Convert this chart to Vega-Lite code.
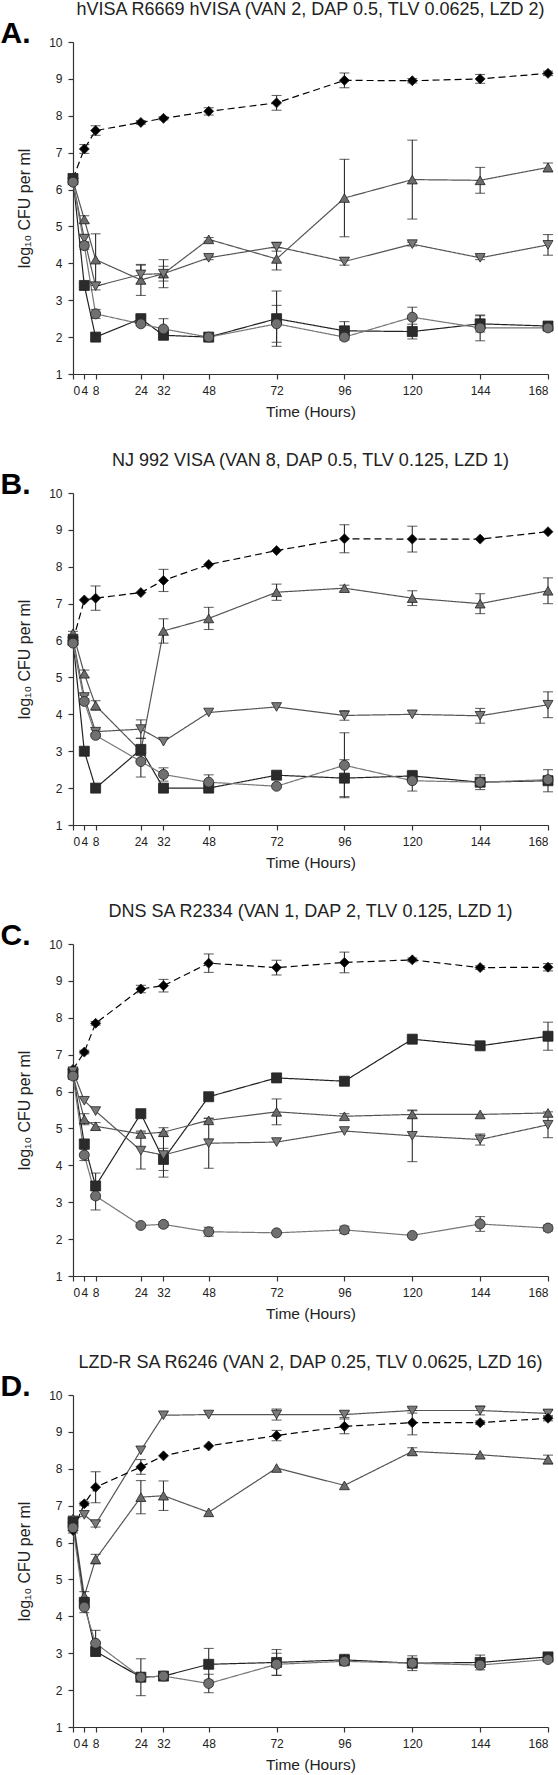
{
 "$schema": "https://vega.github.io/schema/vega-lite/v6.json",
 "padding": {"left": 0, "top": 1, "right": 0, "bottom": 0},
 "background": "white",
 "datasets": {
  "cfu": [
   {"p":"A","s":"Control","h":0,"v":6.3,"e":0.05},{"p":"A","s":"Control","h":4,"v":7.1,"e":0.12},{"p":"A","s":"Control","h":8,"v":7.6,"e":0.13},{"p":"A","s":"Control","h":24,"v":7.82,"e":0.05},{"p":"A","s":"Control","h":32,"v":7.93,"e":0.04},{"p":"A","s":"Control","h":48,"v":8.12,"e":0.1},{"p":"A","s":"Control","h":72,"v":8.35,"e":0.2},{"p":"A","s":"Control","h":96,"v":8.96,"e":0.2},{"p":"A","s":"Control","h":120,"v":8.95,"e":0.06},{"p":"A","s":"Control","h":144,"v":9.0,"e":0.12},{"p":"A","s":"Control","h":168,"v":9.15,"e":0.06},
   {"p":"A","s":"VAN","h":0,"v":6.25,"e":0.08},{"p":"A","s":"VAN","h":4,"v":5.19,"e":0.1},{"p":"A","s":"VAN","h":8,"v":4.1,"e":0.7},{"p":"A","s":"VAN","h":24,"v":3.55,"e":0.42},{"p":"A","s":"VAN","h":32,"v":3.72,"e":0.38},{"p":"A","s":"VAN","h":48,"v":4.65,"e":0.05},{"p":"A","s":"VAN","h":72,"v":4.12,"e":0.3},{"p":"A","s":"VAN","h":96,"v":5.77,"e":1.05},{"p":"A","s":"VAN","h":120,"v":6.27,"e":1.07},{"p":"A","s":"VAN","h":144,"v":6.25,"e":0.35},{"p":"A","s":"VAN","h":168,"v":6.6,"e":0.12},
   {"p":"A","s":"LZD","h":0,"v":6.2,"e":0.05},{"p":"A","s":"LZD","h":4,"v":4.67,"e":0.1},{"p":"A","s":"LZD","h":8,"v":3.38,"e":0.1},{"p":"A","s":"LZD","h":24,"v":3.7,"e":0.25},{"p":"A","s":"LZD","h":32,"v":3.72,"e":0.2},{"p":"A","s":"LZD","h":48,"v":4.15,"e":0.05},{"p":"A","s":"LZD","h":72,"v":4.45,"e":0.12},{"p":"A","s":"LZD","h":96,"v":4.05,"e":0.1},{"p":"A","s":"LZD","h":120,"v":4.52,"e":0.05},{"p":"A","s":"LZD","h":144,"v":4.15,"e":0.05},{"p":"A","s":"LZD","h":168,"v":4.5,"e":0.28},
   {"p":"A","s":"DAP","h":0,"v":6.3,"e":0.05},{"p":"A","s":"DAP","h":4,"v":3.4,"e":0.05},{"p":"A","s":"DAP","h":8,"v":2.0,"e":0},{"p":"A","s":"DAP","h":24,"v":2.5,"e":0.05},{"p":"A","s":"DAP","h":32,"v":2.05,"e":0.05},{"p":"A","s":"DAP","h":48,"v":2.0,"e":0},{"p":"A","s":"DAP","h":72,"v":2.5,"e":0.75},{"p":"A","s":"DAP","h":96,"v":2.17,"e":0.25},{"p":"A","s":"DAP","h":120,"v":2.15,"e":0.2},{"p":"A","s":"DAP","h":144,"v":2.36,"e":0.22},{"p":"A","s":"DAP","h":168,"v":2.3,"e":0.08},
   {"p":"A","s":"TLV","h":0,"v":6.2,"e":0.05},{"p":"A","s":"TLV","h":4,"v":4.48,"e":0.1},{"p":"A","s":"TLV","h":8,"v":2.63,"e":0.12},{"p":"A","s":"TLV","h":24,"v":2.36,"e":0.05},{"p":"A","s":"TLV","h":32,"v":2.22,"e":0.28},{"p":"A","s":"TLV","h":48,"v":2.0,"e":0},{"p":"A","s":"TLV","h":72,"v":2.36,"e":0.5},{"p":"A","s":"TLV","h":96,"v":2.0,"e":0},{"p":"A","s":"TLV","h":120,"v":2.54,"e":0.27},{"p":"A","s":"TLV","h":144,"v":2.25,"e":0.35},{"p":"A","s":"TLV","h":168,"v":2.25,"e":0.05},

   {"p":"B","s":"Control","h":0,"v":6.0,"e":0.05},{"p":"B","s":"Control","h":4,"v":7.1,"e":0},{"p":"B","s":"Control","h":8,"v":7.15,"e":0.33},{"p":"B","s":"Control","h":24,"v":7.3,"e":0},{"p":"B","s":"Control","h":32,"v":7.63,"e":0.3},{"p":"B","s":"Control","h":48,"v":8.06,"e":0},{"p":"B","s":"Control","h":72,"v":8.44,"e":0},{"p":"B","s":"Control","h":96,"v":8.76,"e":0.38},{"p":"B","s":"Control","h":120,"v":8.75,"e":0.35},{"p":"B","s":"Control","h":144,"v":8.75,"e":0},{"p":"B","s":"Control","h":168,"v":8.95,"e":0},
   {"p":"B","s":"VAN","h":0,"v":6.2,"e":0.05},{"p":"B","s":"VAN","h":4,"v":5.1,"e":0.1},{"p":"B","s":"VAN","h":8,"v":4.24,"e":0.13},{"p":"B","s":"VAN","h":24,"v":3.0,"e":0.05},{"p":"B","s":"VAN","h":32,"v":6.26,"e":0.33},{"p":"B","s":"VAN","h":48,"v":6.6,"e":0.3},{"p":"B","s":"VAN","h":72,"v":7.31,"e":0.22},{"p":"B","s":"VAN","h":96,"v":7.42,"e":0.08},{"p":"B","s":"VAN","h":120,"v":7.15,"e":0.2},{"p":"B","s":"VAN","h":144,"v":7.0,"e":0.27},{"p":"B","s":"VAN","h":168,"v":7.35,"e":0.35},
   {"p":"B","s":"LZD","h":0,"v":6.05,"e":0},{"p":"B","s":"LZD","h":4,"v":4.47,"e":0.05},{"p":"B","s":"LZD","h":8,"v":3.53,"e":0.05},{"p":"B","s":"LZD","h":24,"v":3.6,"e":0.25},{"p":"B","s":"LZD","h":32,"v":3.26,"e":0},{"p":"B","s":"LZD","h":48,"v":4.05,"e":0},{"p":"B","s":"LZD","h":72,"v":4.2,"e":0},{"p":"B","s":"LZD","h":96,"v":3.97,"e":0.13},{"p":"B","s":"LZD","h":120,"v":4.0,"e":0},{"p":"B","s":"LZD","h":144,"v":3.96,"e":0.2},{"p":"B","s":"LZD","h":168,"v":4.26,"e":0.35},
   {"p":"B","s":"DAP","h":0,"v":6.0,"e":0},{"p":"B","s":"DAP","h":4,"v":3.0,"e":0},{"p":"B","s":"DAP","h":8,"v":2.0,"e":0},{"p":"B","s":"DAP","h":24,"v":3.05,"e":0.3},{"p":"B","s":"DAP","h":32,"v":2.0,"e":0},{"p":"B","s":"DAP","h":48,"v":2.0,"e":0},{"p":"B","s":"DAP","h":72,"v":2.35,"e":0},{"p":"B","s":"DAP","h":96,"v":2.27,"e":0.5},{"p":"B","s":"DAP","h":120,"v":2.33,"e":0.12},{"p":"B","s":"DAP","h":144,"v":2.16,"e":0.2},{"p":"B","s":"DAP","h":168,"v":2.2,"e":0.3},
   {"p":"B","s":"TLV","h":0,"v":5.93,"e":0},{"p":"B","s":"TLV","h":4,"v":4.35,"e":0},{"p":"B","s":"TLV","h":8,"v":3.43,"e":0},{"p":"B","s":"TLV","h":24,"v":2.72,"e":0.42},{"p":"B","s":"TLV","h":32,"v":2.37,"e":0.18},{"p":"B","s":"TLV","h":48,"v":2.16,"e":0.2},{"p":"B","s":"TLV","h":72,"v":2.05,"e":0},{"p":"B","s":"TLV","h":96,"v":2.62,"e":0.88},{"p":"B","s":"TLV","h":120,"v":2.2,"e":0.28},{"p":"B","s":"TLV","h":144,"v":2.16,"e":0},{"p":"B","s":"TLV","h":168,"v":2.23,"e":0},

   {"p":"C","s":"Control","h":0,"v":6.6,"e":0.05},{"p":"C","s":"Control","h":4,"v":7.07,"e":0.05},{"p":"C","s":"Control","h":8,"v":7.85,"e":0.05},{"p":"C","s":"Control","h":24,"v":8.78,"e":0.1},{"p":"C","s":"Control","h":32,"v":8.87,"e":0.17},{"p":"C","s":"Control","h":48,"v":9.48,"e":0.25},{"p":"C","s":"Control","h":72,"v":9.36,"e":0.2},{"p":"C","s":"Control","h":96,"v":9.5,"e":0.28},{"p":"C","s":"Control","h":120,"v":9.57,"e":0.05},{"p":"C","s":"Control","h":144,"v":9.36,"e":0.05},{"p":"C","s":"Control","h":168,"v":9.37,"e":0.1},
   {"p":"C","s":"DAP","h":0,"v":6.5,"e":0},{"p":"C","s":"DAP","h":4,"v":4.58,"e":0.1},{"p":"C","s":"DAP","h":8,"v":3.44,"e":0.35},{"p":"C","s":"DAP","h":24,"v":5.4,"e":0},{"p":"C","s":"DAP","h":32,"v":4.16,"e":0.3},{"p":"C","s":"DAP","h":48,"v":5.86,"e":0},{"p":"C","s":"DAP","h":72,"v":6.37,"e":0.12},{"p":"C","s":"DAP","h":96,"v":6.28,"e":0},{"p":"C","s":"DAP","h":120,"v":7.42,"e":0},{"p":"C","s":"DAP","h":144,"v":7.24,"e":0},{"p":"C","s":"DAP","h":168,"v":7.5,"e":0.38},
   {"p":"C","s":"VAN","h":0,"v":6.45,"e":0},{"p":"C","s":"VAN","h":4,"v":5.25,"e":0.15},{"p":"C","s":"VAN","h":8,"v":5.06,"e":0.1},{"p":"C","s":"VAN","h":24,"v":4.85,"e":0.08},{"p":"C","s":"VAN","h":32,"v":4.9,"e":0.12},{"p":"C","s":"VAN","h":48,"v":5.22,"e":0.05},{"p":"C","s":"VAN","h":72,"v":5.45,"e":0.35},{"p":"C","s":"VAN","h":96,"v":5.33,"e":0.07},{"p":"C","s":"VAN","h":120,"v":5.38,"e":0.1},{"p":"C","s":"VAN","h":144,"v":5.38,"e":0},{"p":"C","s":"VAN","h":168,"v":5.42,"e":0},
   {"p":"C","s":"LZD","h":0,"v":6.55,"e":0},{"p":"C","s":"LZD","h":4,"v":5.75,"e":0},{"p":"C","s":"LZD","h":8,"v":5.47,"e":0},{"p":"C","s":"LZD","h":24,"v":4.4,"e":0.5},{"p":"C","s":"LZD","h":32,"v":4.28,"e":0.6},{"p":"C","s":"LZD","h":48,"v":4.6,"e":0.68},{"p":"C","s":"LZD","h":72,"v":4.63,"e":0},{"p":"C","s":"LZD","h":96,"v":4.93,"e":0},{"p":"C","s":"LZD","h":120,"v":4.8,"e":0.7},{"p":"C","s":"LZD","h":144,"v":4.7,"e":0.15},{"p":"C","s":"LZD","h":168,"v":5.1,"e":0.35},
   {"p":"C","s":"TLV","h":0,"v":6.42,"e":0},{"p":"C","s":"TLV","h":4,"v":4.28,"e":0.15},{"p":"C","s":"TLV","h":8,"v":3.17,"e":0.38},{"p":"C","s":"TLV","h":24,"v":2.37,"e":0},{"p":"C","s":"TLV","h":32,"v":2.4,"e":0.07},{"p":"C","s":"TLV","h":48,"v":2.2,"e":0.12},{"p":"C","s":"TLV","h":72,"v":2.17,"e":0},{"p":"C","s":"TLV","h":96,"v":2.25,"e":0.1},{"p":"C","s":"TLV","h":120,"v":2.1,"e":0},{"p":"C","s":"TLV","h":144,"v":2.41,"e":0.2},{"p":"C","s":"TLV","h":168,"v":2.3,"e":0.08},

   {"p":"D","s":"LZD","h":0,"v":6.6,"e":0},{"p":"D","s":"LZD","h":4,"v":6.75,"e":0},{"p":"D","s":"LZD","h":8,"v":6.5,"e":0.08},{"p":"D","s":"LZD","h":24,"v":8.5,"e":0},{"p":"D","s":"LZD","h":32,"v":9.45,"e":0},{"p":"D","s":"LZD","h":48,"v":9.47,"e":0},{"p":"D","s":"LZD","h":72,"v":9.47,"e":0.15},{"p":"D","s":"LZD","h":96,"v":9.47,"e":0.08},{"p":"D","s":"LZD","h":120,"v":9.58,"e":0.07},{"p":"D","s":"LZD","h":144,"v":9.58,"e":0.12},{"p":"D","s":"LZD","h":168,"v":9.5,"e":0.08},
   {"p":"D","s":"Control","h":0,"v":6.33,"e":0.07},{"p":"D","s":"Control","h":4,"v":7.05,"e":0.05},{"p":"D","s":"Control","h":8,"v":7.5,"e":0.42},{"p":"D","s":"Control","h":24,"v":8.05,"e":0.2},{"p":"D","s":"Control","h":32,"v":8.35,"e":0},{"p":"D","s":"Control","h":48,"v":8.62,"e":0},{"p":"D","s":"Control","h":72,"v":8.9,"e":0.14},{"p":"D","s":"Control","h":96,"v":9.15,"e":0.2},{"p":"D","s":"Control","h":120,"v":9.25,"e":0.33},{"p":"D","s":"Control","h":144,"v":9.25,"e":0.05},{"p":"D","s":"Control","h":168,"v":9.37,"e":0.07},
   {"p":"D","s":"VAN","h":0,"v":6.65,"e":0},{"p":"D","s":"VAN","h":4,"v":4.55,"e":0.12},{"p":"D","s":"VAN","h":8,"v":5.55,"e":0.13},{"p":"D","s":"VAN","h":24,"v":7.23,"e":0.45},{"p":"D","s":"VAN","h":32,"v":7.27,"e":0.4},{"p":"D","s":"VAN","h":48,"v":6.82,"e":0},{"p":"D","s":"VAN","h":72,"v":8.02,"e":0},{"p":"D","s":"VAN","h":96,"v":7.55,"e":0},{"p":"D","s":"VAN","h":120,"v":8.47,"e":0.1},{"p":"D","s":"VAN","h":144,"v":8.38,"e":0},{"p":"D","s":"VAN","h":168,"v":8.25,"e":0.12},
   {"p":"D","s":"DAP","h":0,"v":6.55,"e":0},{"p":"D","s":"DAP","h":4,"v":4.38,"e":0},{"p":"D","s":"DAP","h":8,"v":3.05,"e":0.12},{"p":"D","s":"DAP","h":24,"v":2.35,"e":0.5},{"p":"D","s":"DAP","h":32,"v":2.38,"e":0},{"p":"D","s":"DAP","h":48,"v":2.7,"e":0.43},{"p":"D","s":"DAP","h":72,"v":2.75,"e":0.35},{"p":"D","s":"DAP","h":96,"v":2.82,"e":0.15},{"p":"D","s":"DAP","h":120,"v":2.73,"e":0.2},{"p":"D","s":"DAP","h":144,"v":2.75,"e":0.2},{"p":"D","s":"DAP","h":168,"v":2.9,"e":0.1},
   {"p":"D","s":"TLV","h":0,"v":6.4,"e":0},{"p":"D","s":"TLV","h":4,"v":4.25,"e":0.15},{"p":"D","s":"TLV","h":8,"v":3.27,"e":0.35},{"p":"D","s":"TLV","h":24,"v":2.35,"e":0},{"p":"D","s":"TLV","h":32,"v":2.38,"e":0},{"p":"D","s":"TLV","h":48,"v":2.18,"e":0.25},{"p":"D","s":"TLV","h":72,"v":2.7,"e":0.3},{"p":"D","s":"TLV","h":96,"v":2.78,"e":0.12},{"p":"D","s":"TLV","h":120,"v":2.73,"e":0},{"p":"D","s":"TLV","h":144,"v":2.68,"e":0.05},{"p":"D","s":"TLV","h":168,"v":2.83,"e":0.05}
  ]
 },
 "config": {
  "view": {"stroke": null},
  "font": "Liberation Sans",
  "concat": {"spacing": 32},
  "axis": {"grid": false, "domainColor": "#333", "tickColor": "#333", "labelColor": "#222", "titleColor": "#222", "labelFont": "Liberation Sans", "titleFont": "Liberation Sans", "labelFontSize": 12, "titleFontSize": 15.5, "titleFontWeight": "normal", "tickSize": 5, "labelPadding": 6, "domainWidth": 1.2, "tickWidth": 1.2},
  "title": {"font": "Liberation Sans", "fontSize": 18, "fontWeight": "normal", "color": "#222", "anchor": "middle", "frame": "group", "offset": -1}
 },
 "vconcat": [
  {
   "title": "hVISA R6669 hVISA (VAN 2, DAP 0.5, TLV 0.0625, LZD 2)",
   "width": 475, "height": 332,
   "data": {"name": "cfu"},
   "transform": [{"filter": "datum.p == 'A'"}],
   "resolve": {"axis": {"x": "independent", "y": "independent"}},
   "layer": [
    {"mark": {"type": "line", "strokeWidth": 1.2},
     "encoding": {
      "x": {"field": "h", "type": "quantitative", "scale": {"domain": [0, 168], "nice": false}, "axis": {"values": [0,4,8,24,32,48,72,96,120,144,168], "title": "Time (Hours)", "titlePadding": 8}},
      "y": {"field": "v", "type": "quantitative", "scale": {"domain": [1, 10], "nice": false, "zero": false}, "axis": {"values": [1,2,3,4,5,6,7,8,9,10], "title": "log₁₀ CFU per ml", "titleFontSize": 16, "titlePadding": 16}},
      "color": {"field": "s", "type": "nominal", "scale": {"domain": ["Control","VAN","LZD","DAP","TLV"], "range": ["#000000","#555555","#555555","#222222","#777777"]}, "legend": null},
      "strokeDash": {"field": "s", "type": "nominal", "scale": {"domain": ["Control","VAN","LZD","DAP","TLV"], "range": [[7,4],[1,0],[1,0],[1,0],[1,0]]}, "legend": null}
     }},
    {"transform": [{"filter": "datum.e > 0"}],
     "mark": {"type": "errorbar", "color": "#2a2a2a", "ticks": true, "size": 10, "thickness": 1.1},
     "encoding": {
      "x": {"field": "h", "type": "quantitative", "axis": null},
      "y": {"field": "v", "type": "quantitative", "axis": null},
      "yError": {"field": "e"},
      "detail": {"field": "s", "type": "nominal"}
     }},
    {"mark": {"type": "point", "filled": true, "size": 100, "stroke": "#222222", "strokeWidth": 0.8, "opacity": 1},
     "encoding": {
      "x": {"field": "h", "type": "quantitative", "axis": {"orient": "top", "labels": false, "ticks": false, "domain": false, "title": "A.", "titleFontSize": 30, "titleFontWeight": "bold", "titleColor": "#000", "titleAlign": "left", "titleX": -73, "titleY": 0, "titleBaseline": "alphabetic"}},
      "y": {"field": "v", "type": "quantitative", "axis": null},
      "shape": {"field": "s", "type": "nominal", "scale": {"domain": ["Control","VAN","LZD","DAP","TLV"], "range": ["diamond","triangle-up","triangle-down","square","circle"]}, "legend": null},
      "fill": {"field": "s", "type": "nominal", "scale": {"domain": ["Control","VAN","LZD","DAP","TLV"], "range": ["#000000","#6b6b6b","#7a7a7a","#2b2b2b","#707070"]}, "legend": null}
     }}
   ]
  },
  {
   "title": "NJ 992 VISA (VAN 8, DAP 0.5, TLV 0.125, LZD 1)",
   "width": 475, "height": 332,
   "data": {"name": "cfu"},
   "transform": [{"filter": "datum.p == 'B'"}],
   "resolve": {"axis": {"x": "independent", "y": "independent"}},
   "layer": [
    {"mark": {"type": "line", "strokeWidth": 1.2},
     "encoding": {
      "x": {"field": "h", "type": "quantitative", "scale": {"domain": [0, 168], "nice": false}, "axis": {"values": [0,4,8,24,32,48,72,96,120,144,168], "title": "Time (Hours)", "titlePadding": 8}},
      "y": {"field": "v", "type": "quantitative", "scale": {"domain": [1, 10], "nice": false, "zero": false}, "axis": {"values": [1,2,3,4,5,6,7,8,9,10], "title": "log₁₀ CFU per ml", "titleFontSize": 16, "titlePadding": 16}},
      "color": {"field": "s", "type": "nominal", "scale": {"domain": ["Control","VAN","LZD","DAP","TLV"], "range": ["#000000","#555555","#555555","#222222","#777777"]}, "legend": null},
      "strokeDash": {"field": "s", "type": "nominal", "scale": {"domain": ["Control","VAN","LZD","DAP","TLV"], "range": [[7,4],[1,0],[1,0],[1,0],[1,0]]}, "legend": null}
     }},
    {"transform": [{"filter": "datum.e > 0"}],
     "mark": {"type": "errorbar", "color": "#2a2a2a", "ticks": true, "size": 10, "thickness": 1.1},
     "encoding": {
      "x": {"field": "h", "type": "quantitative", "axis": null},
      "y": {"field": "v", "type": "quantitative", "axis": null},
      "yError": {"field": "e"},
      "detail": {"field": "s", "type": "nominal"}
     }},
    {"mark": {"type": "point", "filled": true, "size": 100, "stroke": "#222222", "strokeWidth": 0.8, "opacity": 1},
     "encoding": {
      "x": {"field": "h", "type": "quantitative", "axis": {"orient": "top", "labels": false, "ticks": false, "domain": false, "title": "B.", "titleFontSize": 30, "titleFontWeight": "bold", "titleColor": "#000", "titleAlign": "left", "titleX": -73, "titleY": 0, "titleBaseline": "alphabetic"}},
      "y": {"field": "v", "type": "quantitative", "axis": null},
      "shape": {"field": "s", "type": "nominal", "scale": {"domain": ["Control","VAN","LZD","DAP","TLV"], "range": ["diamond","triangle-up","triangle-down","square","circle"]}, "legend": null},
      "fill": {"field": "s", "type": "nominal", "scale": {"domain": ["Control","VAN","LZD","DAP","TLV"], "range": ["#000000","#6b6b6b","#7a7a7a","#2b2b2b","#707070"]}, "legend": null}
     }}
   ]
  },
  {
   "title": "DNS SA R2334 (VAN 1, DAP 2, TLV 0.125, LZD 1)",
   "width": 475, "height": 332,
   "data": {"name": "cfu"},
   "transform": [{"filter": "datum.p == 'C'"}],
   "resolve": {"axis": {"x": "independent", "y": "independent"}},
   "layer": [
    {"mark": {"type": "line", "strokeWidth": 1.2},
     "encoding": {
      "x": {"field": "h", "type": "quantitative", "scale": {"domain": [0, 168], "nice": false}, "axis": {"values": [0,4,8,24,32,48,72,96,120,144,168], "title": "Time (Hours)", "titlePadding": 8}},
      "y": {"field": "v", "type": "quantitative", "scale": {"domain": [1, 10], "nice": false, "zero": false}, "axis": {"values": [1,2,3,4,5,6,7,8,9,10], "title": "log₁₀ CFU per ml", "titleFontSize": 16, "titlePadding": 16}},
      "color": {"field": "s", "type": "nominal", "scale": {"domain": ["Control","VAN","LZD","DAP","TLV"], "range": ["#000000","#555555","#555555","#222222","#777777"]}, "legend": null},
      "strokeDash": {"field": "s", "type": "nominal", "scale": {"domain": ["Control","VAN","LZD","DAP","TLV"], "range": [[7,4],[1,0],[1,0],[1,0],[1,0]]}, "legend": null}
     }},
    {"transform": [{"filter": "datum.e > 0"}],
     "mark": {"type": "errorbar", "color": "#2a2a2a", "ticks": true, "size": 10, "thickness": 1.1},
     "encoding": {
      "x": {"field": "h", "type": "quantitative", "axis": null},
      "y": {"field": "v", "type": "quantitative", "axis": null},
      "yError": {"field": "e"},
      "detail": {"field": "s", "type": "nominal"}
     }},
    {"mark": {"type": "point", "filled": true, "size": 100, "stroke": "#222222", "strokeWidth": 0.8, "opacity": 1},
     "encoding": {
      "x": {"field": "h", "type": "quantitative", "axis": {"orient": "top", "labels": false, "ticks": false, "domain": false, "title": "C.", "titleFontSize": 30, "titleFontWeight": "bold", "titleColor": "#000", "titleAlign": "left", "titleX": -73, "titleY": 0, "titleBaseline": "alphabetic"}},
      "y": {"field": "v", "type": "quantitative", "axis": null},
      "shape": {"field": "s", "type": "nominal", "scale": {"domain": ["Control","VAN","LZD","DAP","TLV"], "range": ["diamond","triangle-up","triangle-down","square","circle"]}, "legend": null},
      "fill": {"field": "s", "type": "nominal", "scale": {"domain": ["Control","VAN","LZD","DAP","TLV"], "range": ["#000000","#6b6b6b","#7a7a7a","#2b2b2b","#707070"]}, "legend": null}
     }}
   ]
  },
  {
   "title": "LZD-R SA R6246 (VAN 2, DAP 0.25, TLV 0.0625, LZD 16)",
   "width": 475, "height": 332,
   "data": {"name": "cfu"},
   "transform": [{"filter": "datum.p == 'D'"}],
   "resolve": {"axis": {"x": "independent", "y": "independent"}},
   "layer": [
    {"mark": {"type": "line", "strokeWidth": 1.2},
     "encoding": {
      "x": {"field": "h", "type": "quantitative", "scale": {"domain": [0, 168], "nice": false}, "axis": {"values": [0,4,8,24,32,48,72,96,120,144,168], "title": "Time (Hours)", "titlePadding": 8}},
      "y": {"field": "v", "type": "quantitative", "scale": {"domain": [1, 10], "nice": false, "zero": false}, "axis": {"values": [1,2,3,4,5,6,7,8,9,10], "title": "log₁₀ CFU per ml", "titleFontSize": 16, "titlePadding": 16}},
      "color": {"field": "s", "type": "nominal", "scale": {"domain": ["Control","VAN","LZD","DAP","TLV"], "range": ["#000000","#555555","#555555","#222222","#777777"]}, "legend": null},
      "strokeDash": {"field": "s", "type": "nominal", "scale": {"domain": ["Control","VAN","LZD","DAP","TLV"], "range": [[7,4],[1,0],[1,0],[1,0],[1,0]]}, "legend": null}
     }},
    {"transform": [{"filter": "datum.e > 0"}],
     "mark": {"type": "errorbar", "color": "#2a2a2a", "ticks": true, "size": 10, "thickness": 1.1},
     "encoding": {
      "x": {"field": "h", "type": "quantitative", "axis": null},
      "y": {"field": "v", "type": "quantitative", "axis": null},
      "yError": {"field": "e"},
      "detail": {"field": "s", "type": "nominal"}
     }},
    {"mark": {"type": "point", "filled": true, "size": 100, "stroke": "#222222", "strokeWidth": 0.8, "opacity": 1},
     "encoding": {
      "x": {"field": "h", "type": "quantitative", "axis": {"orient": "top", "labels": false, "ticks": false, "domain": false, "title": "D.", "titleFontSize": 30, "titleFontWeight": "bold", "titleColor": "#000", "titleAlign": "left", "titleX": -73, "titleY": 0, "titleBaseline": "alphabetic"}},
      "y": {"field": "v", "type": "quantitative", "axis": null},
      "shape": {"field": "s", "type": "nominal", "scale": {"domain": ["Control","VAN","LZD","DAP","TLV"], "range": ["diamond","triangle-up","triangle-down","square","circle"]}, "legend": null},
      "fill": {"field": "s", "type": "nominal", "scale": {"domain": ["Control","VAN","LZD","DAP","TLV"], "range": ["#000000","#6b6b6b","#7a7a7a","#2b2b2b","#707070"]}, "legend": null}
     }}
   ]
  }
 ]
}
